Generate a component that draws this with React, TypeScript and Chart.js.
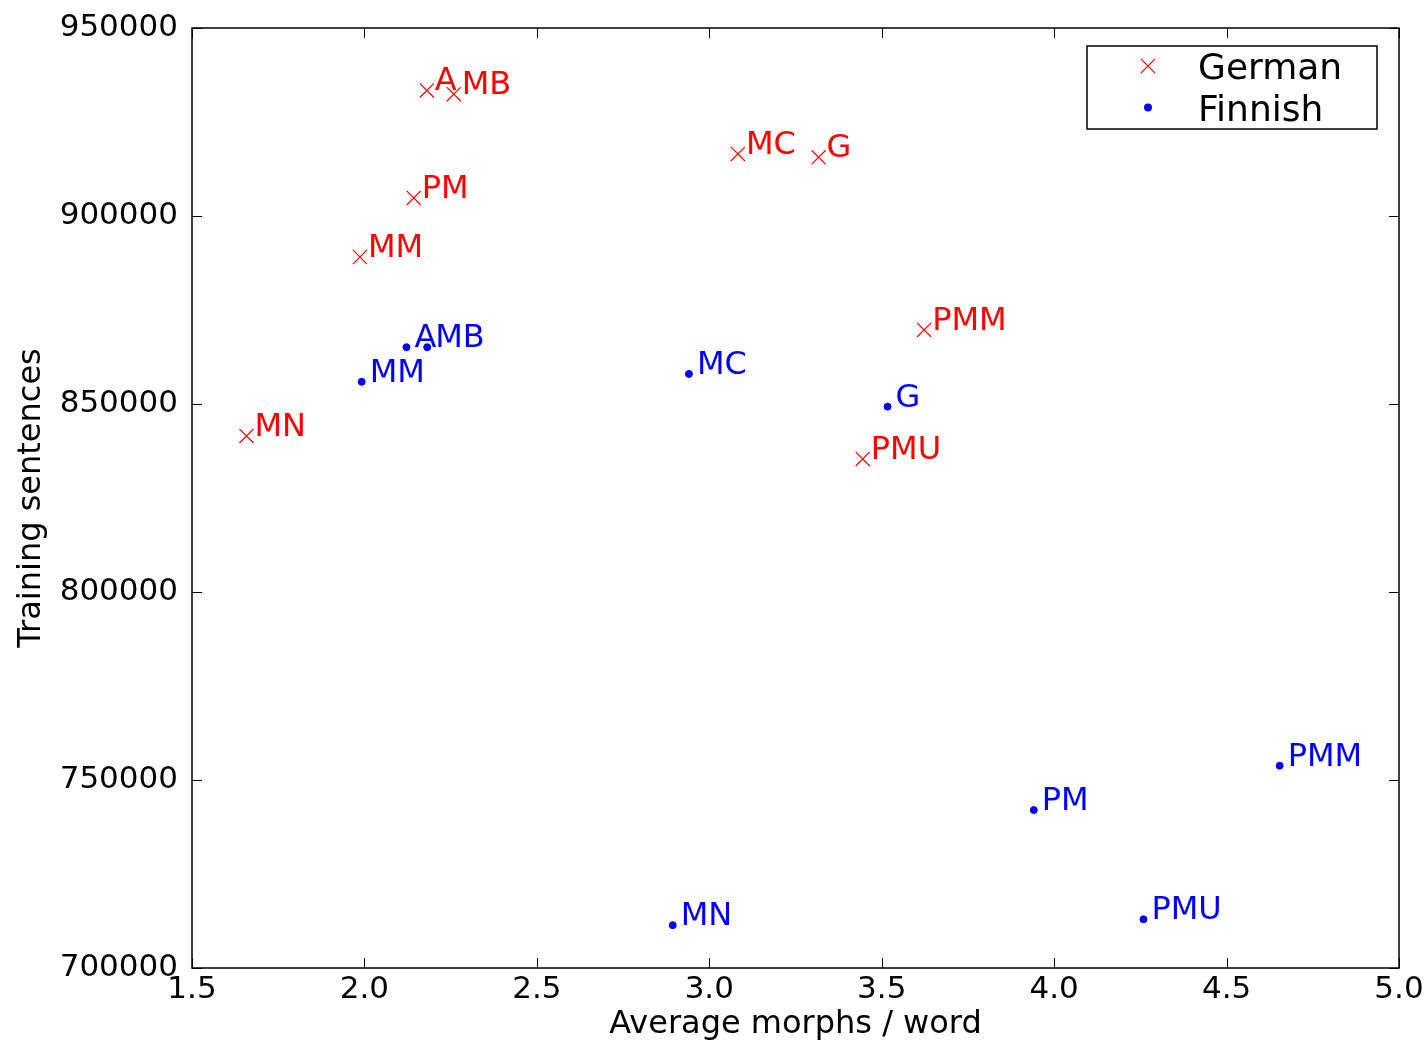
import React, { useEffect, useRef } from "react";
import { Chart, registerables } from "chart.js";

Chart.register(...registerables);

const germanNames = ["A", "MB", "PM", "MM", "MC", "G", "PMM", "PMU", "MN"];
const germanX = [2.181, 2.259, 2.143, 1.987, 3.083, 3.317, 3.623, 3.445, 1.658];
const germanY = [933400, 932400, 904800, 889100, 916500, 915600, 869700, 835400, 841500];

const finnishNames = ["A", "MB", "MM", "MC", "G", "MN", "PM", "PMU", "PMM"];
const finnishX = [2.122, 2.182, 1.992, 2.941, 3.517, 2.894, 3.941, 4.259, 4.654];
const finnishY = [865100, 865100, 855900, 858000, 849300, 711400, 742000, 712950, 753800];

const seriesNames = ["German", "Finnish"];
const xTicksRange = [1.5, 5.0, 0.5];
const yTicksRange = [700000, 950000, 50000];
const xTitle = "Average morphs / word";
const yTitle = "Training sentences";

const FONT = "DejaVu Sans";
const FS = 31;
const LABEL_FS = 32;
const LEGEND_FS = 36;

const framePlugin = {
  id: "frameTicks",
  afterDraw(chart: any) {
    const { ctx, chartArea } = chart;
    const { left, right, top, bottom } = chartArea;
    ctx.save();
    ctx.strokeStyle = "#000";
    ctx.lineWidth = 1;
    const xs = chart.scales.x;
    const ys = chart.scales.y;
    const L = 10;
    xs.ticks.forEach((t: any) => {
      const px = Math.round(xs.getPixelForValue(t.value)) + 0.5;
      ctx.beginPath();
      ctx.moveTo(px, bottom);
      ctx.lineTo(px, bottom - L);
      ctx.moveTo(px, top);
      ctx.lineTo(px, top + L);
      ctx.stroke();
    });
    ys.ticks.forEach((t: any) => {
      const py = Math.round(ys.getPixelForValue(t.value)) + 0.5;
      ctx.beginPath();
      ctx.moveTo(left, py);
      ctx.lineTo(left + L, py);
      ctx.moveTo(right, py);
      ctx.lineTo(right - L, py);
      ctx.stroke();
    });
    ctx.lineWidth = 1.5;
    ctx.strokeRect(left, top, right - left, bottom - top);
    ctx.restore();
  },
};

const labelPlugin = {
  id: "pointLabels",
  afterDatasetsDraw(chart: any) {
    const { ctx } = chart;
    ctx.save();
    ctx.font = `${LABEL_FS}px "${FONT}"`;
    ctx.textBaseline = "alphabetic";
    ctx.textAlign = "left";
    chart.data.datasets.forEach((ds: any, i: number) => {
      const meta = chart.getDatasetMeta(i);
      ctx.fillStyle = ds.borderColor;
      meta.data.forEach((el: any, j: number) => {
        ctx.fillText(ds.names[j], el.x + 8, el.y);
      });
    });
    ctx.restore();
  },
};

const legendPlugin = {
  id: "boxLegend",
  afterDraw(chart: any) {
    const { ctx } = chart;
    const bx = 1087, by = 46, bw = 290, bh = 83;
    ctx.save();
    ctx.fillStyle = "#fff";
    ctx.fillRect(bx, by, bw, bh);
    ctx.strokeStyle = "#000";
    ctx.lineWidth = 1.5;
    ctx.strokeRect(bx, by, bw, bh);
    ctx.font = `${LEGEND_FS}px "${FONT}"`;
    ctx.textBaseline = "alphabetic";
    ctx.textAlign = "left";
    chart.data.datasets.forEach((ds: any, i: number) => {
      const my = 66 + i * 41.5;
      const mx = 1148;
      ctx.strokeStyle = ds.borderColor;
      ctx.fillStyle = ds.backgroundColor;
      ctx.lineWidth = ds.borderWidth;
      if (ds.pointStyle === "crossRot") {
        const h = ds.pointRadius * Math.SQRT1_2;
        ctx.beginPath();
        ctx.moveTo(mx - h, my - h);
        ctx.lineTo(mx + h, my + h);
        ctx.moveTo(mx - h, my + h);
        ctx.lineTo(mx + h, my - h);
        ctx.stroke();
      } else {
        ctx.beginPath();
        ctx.arc(mx, my, ds.pointRadius + 0.5, 0, Math.PI * 2);
        ctx.fill();
      }
      ctx.fillStyle = "#000";
      ctx.fillText(ds.label, 1198, 79 + i * 42);
    });
    ctx.restore();
  },
};

export default function App() {
  const ref = useRef<HTMLCanvasElement>(null);
  useEffect(() => {
    if (!ref.current) return;
    Chart.defaults.font.family = FONT;
    const german = germanX.map((x, i) => ({ x, y: germanY[i] }));
    const finnish = finnishX.map((x, i) => ({ x, y: finnishY[i] }));
    const chart = new Chart(ref.current, {
      type: "scatter",
      data: {
        datasets: [
          {
            label: seriesNames[0],
            data: german,
            names: germanNames,
            pointStyle: "crossRot",
            pointRadius: 10,
            borderColor: "#ff0000",
            backgroundColor: "#ff0000",
            borderWidth: 1.2,
          } as any,
          {
            label: seriesNames[1],
            data: finnish,
            names: finnishNames,
            pointStyle: "circle",
            pointRadius: 3.5,
            borderColor: "#0000ff",
            backgroundColor: "#0000ff",
            borderWidth: 1,
          } as any,
        ],
      },
      options: {
        responsive: false,
        animation: false,
        devicePixelRatio: 1,
        layout: { padding: { left: 0, top: 28, right: 26, bottom: 0 } },
        plugins: { legend: { display: false }, tooltip: { enabled: false } },
        scales: {
          x: {
            type: "linear",
            min: xTicksRange[0],
            max: xTicksRange[1],
            grid: { display: false, drawTicks: false, tickLength: 0 },
            border: { display: false },
            ticks: {
              stepSize: xTicksRange[2],
              padding: 3.5,
              color: "#000",
              font: { size: FS, family: FONT },
              maxRotation: 0,
              autoSkip: false,
              callback: (v: any) => Number(v).toFixed(1),
            },
            title: {
              display: true,
              text: xTitle,
              color: "#000",
              font: { size: 32, family: FONT },
              padding: { top: 0, bottom: 0 },
            },
            afterFit: (s: any) => {
              s.height = 76;
              s.paddingLeft = 0;
              s.paddingRight = 0;
            },
          },
          y: {
            type: "linear",
            min: yTicksRange[0],
            max: yTicksRange[1],
            grid: { display: false, drawTicks: false, tickLength: 0 },
            border: { display: false },
            ticks: {
              stepSize: yTicksRange[2],
              padding: 14,
              color: "#000",
              font: { size: FS, family: FONT },
              autoSkip: false,
              callback: (v: any) => String(v),
            },
            title: {
              display: true,
              text: yTitle,
              color: "#000",
              font: { size: 32, family: FONT },
              padding: { top: 12, bottom: 0 },
            },
            afterFit: (s: any) => {
              s.width = 192;
              s.paddingTop = 0;
              s.paddingBottom = 0;
            },
          },
        },
      } as any,
      plugins: [framePlugin, labelPlugin, legendPlugin],
    });
    return () => chart.destroy();
  }, []);
  return (
    <canvas
      ref={ref}
      width={1425}
      height={1044}
      style={{ position: "absolute", left: 0, top: 0, width: 1425, height: 1044, display: "block" }}
    />
  );
}
